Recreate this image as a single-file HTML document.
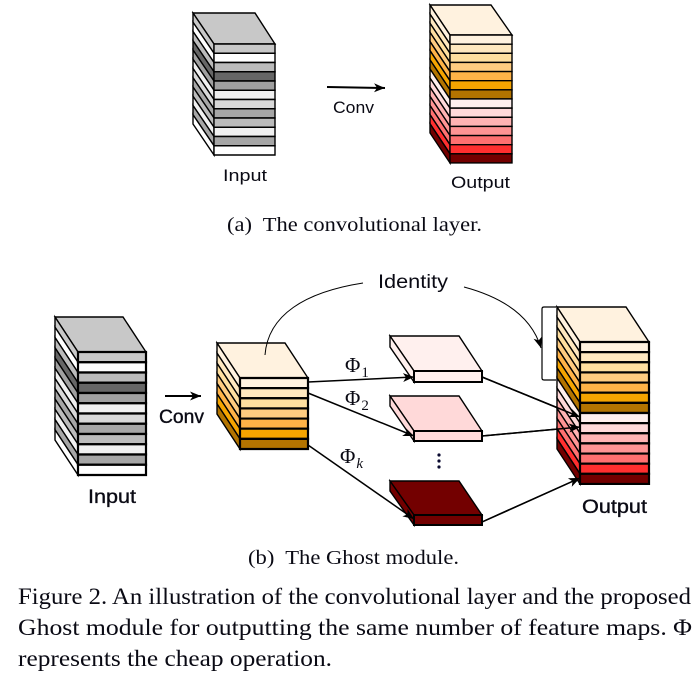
<!DOCTYPE html>
<html><head><meta charset="utf-8"><style>
html,body{margin:0;padding:0;background:#fff;width:697px;height:676px;overflow:hidden}
svg{display:block}
.t{font-family:"Liberation Serif",serif;fill:#0a0a14}
.s{font-family:"Liberation Sans",sans-serif;fill:#0a0a14}
rect{vector-effect:non-scaling-stroke}
g.r{stroke:#000;stroke-width:1.4}
g.k{stroke:#000;stroke-width:2.2}
g.v{stroke:#0a0a14;stroke-width:.35}
</style></head><body>
<svg width="697" height="676" viewBox="0 0 697 676" xmlns="http://www.w3.org/2000/svg">
<defs>
<g id="gray">
<rect y="0" width="1" height="1" fill="#c8c8c8"/><rect y="1" width="1" height="1" fill="#fff"/><rect y="2" width="1" height="1" fill="#bbb"/><rect y="3" width="1" height="1" fill="#666"/><rect y="4" width="1" height="1" fill="#a0a0a0"/><rect y="5" width="1" height="1" fill="#f0f0f0"/><rect y="6" width="1" height="1" fill="#d8d8d8"/><rect y="7" width="1" height="1" fill="#a6a6a6"/><rect y="8" width="1" height="1" fill="#bbb"/><rect y="9" width="1" height="1" fill="#f0f0f0"/><rect y="10" width="1" height="1" fill="#a6a6a6"/><rect y="11" width="1" height="1" fill="#fff"/>
</g>
<g id="org">
<rect y="0" width="1" height="1" fill="#fff2df"/><rect y="1" width="1" height="1" fill="#ffe8bf"/><rect y="2" width="1" height="1" fill="#ffdf9f"/><rect y="3" width="1" height="1" fill="#ffcc80"/><rect y="4" width="1" height="1" fill="#ffb347"/><rect y="5" width="1" height="1" fill="#f5a400"/><rect y="6" width="1" height="1" fill="#b37400"/>
</g>
<g id="all">
<use href="#org"/>
<rect y="7" width="1" height="1" fill="#fff0ee"/><rect y="8" width="1" height="1" fill="#ffd9d9"/><rect y="9" width="1" height="1" fill="#ffb3b3"/><rect y="10" width="1" height="1" fill="#ff9494"/><rect y="11" width="1" height="1" fill="#ff7070"/><rect y="12" width="1" height="1" fill="#ff2f2f"/><rect y="13" width="1" height="1" fill="#730000"/>
</g>
<marker id="a" markerUnits="userSpaceOnUse" markerWidth="12" markerHeight="10" refX="11" refY="5" orient="auto"><path d="M0 0.5L11 5L0 9.5L3 5Z" fill="#000"/></marker>
</defs>

<!-- top input -->
<polygon points="193,13 255,13 275,44 214,44" fill="#c8c8c8" stroke="#000" stroke-width="1.4"/>
<g class="r" transform="matrix(21,31,0,9.25,193,13)"><use href="#gray"/></g>
<g class="r" transform="translate(214,44) scale(61,9.25)"><use href="#gray"/></g>

<!-- top output -->
<polygon points="430,5 491,5 512,35 450,35" fill="#fff2df" stroke="#000" stroke-width="1.4"/>
<g class="r" transform="matrix(20,30,0,9.14,430,5)"><use href="#all"/></g>
<g class="r" transform="translate(450,35) scale(62,9.14)"><use href="#all"/></g>

<!-- bottom input -->
<polygon points="55,317 123,317 146,352 78,352" fill="#c8c8c8" stroke="#000" stroke-width="1.4"/>
<g class="r" transform="matrix(23,35,0,10.25,55,317)"><use href="#gray"/></g>
<g class="k" transform="translate(78,352) scale(68,10.25)"><use href="#gray"/></g>

<!-- intermediate -->
<polygon points="217,343 285,343 308,378 240,378" fill="#fff2df" stroke="#000" stroke-width="1.4"/>
<g class="r" transform="matrix(23,35,0,10.14,217,343)"><use href="#org"/></g>
<g class="k" transform="translate(240,378) scale(68,10.14)"><use href="#org"/></g>

<!-- thin layers -->
<g stroke="#000" stroke-width="1.4">
<polygon points="390,336 459,336 482,371 414,371" fill="#fff0ee"/>
<polygon points="390,336 414,371 414,382 390,347" fill="#fff0ee"/>
<rect x="414" y="371" width="68" height="11" fill="#fff0ee" stroke-width="2"/>
<polygon points="390,396 459,396 482,431 414,431" fill="#ffd9d9"/>
<polygon points="390,396 414,431 414,441 390,406" fill="#ffd9d9"/>
<rect x="414" y="431" width="68" height="10" fill="#ffd9d9" stroke-width="2"/>
<polygon points="390,481 459,481 482,515 414,515" fill="#730000"/>
<polygon points="390,481 414,515 414,525 390,491" fill="#730000"/>
<rect x="414" y="515" width="68" height="10" fill="#730000" stroke-width="2"/>
</g>

<!-- connectors -->
<g fill="none" stroke="#000">
<line x1="327" y1="87" x2="385" y2="88" stroke-width="2" marker-end="url(#a)"/>
<line x1="165" y1="396" x2="201" y2="396" stroke-width="2" marker-end="url(#a)"/>
<line x1="308" y1="382" x2="414" y2="377" stroke-width="1.5" marker-end="url(#a)"/>
<line x1="308" y1="393" x2="414" y2="436" stroke-width="1.5" marker-end="url(#a)"/>
<line x1="308" y1="445" x2="414" y2="519" stroke-width="1.5" marker-end="url(#a)"/>
<line x1="482" y1="377" x2="580" y2="417" stroke-width="1.5" marker-end="url(#a)"/>
<line x1="482" y1="436" x2="580" y2="427" stroke-width="1.5" marker-end="url(#a)"/>
<line x1="482" y1="522" x2="580" y2="478" stroke-width="1.5" marker-end="url(#a)"/>
<path d="M265 355C268 315 305 292 363 283" stroke-width="1"/>
<path d="M464 287C505 298 532 318 541 348" stroke-width="1" marker-end="url(#a)"/>
<path d="M556 307H544Q542 307 542 309V378Q542 380 544 380H556" stroke-width="1.2"/>
</g>

<!-- bottom output -->
<polygon points="557,307 626,307 649,342 580,342" fill="#fff2df" stroke="#000" stroke-width="1.4"/>
<g class="r" transform="matrix(23,35,0,10.14,557,307)"><use href="#all"/></g>
<g class="k" transform="translate(580,342) scale(69,10.14)"><use href="#all"/></g>
<line x1="482" y1="377" x2="580" y2="417" stroke="#000" stroke-width="1.5" marker-end="url(#a)"/>
<line x1="482" y1="436" x2="580" y2="427" stroke="#000" stroke-width="1.5" marker-end="url(#a)"/>
<line x1="482" y1="522" x2="580" y2="478" stroke="#000" stroke-width="1.5" marker-end="url(#a)"/>

<!-- dots -->
<g fill="#0a0a30"><circle cx="439" cy="455" r="1.6"/><circle cx="439" cy="461" r="1.6"/><circle cx="439" cy="467" r="1.6"/></g>

<!-- labels -->
<g class="s">
<text x="223" y="181" font-size="17" textLength="44" lengthAdjust="spacingAndGlyphs">Input</text>
<text x="333" y="113" font-size="17" textLength="41" lengthAdjust="spacingAndGlyphs">Conv</text>
<text x="451" y="188" font-size="17" textLength="59" lengthAdjust="spacingAndGlyphs">Output</text>
<text x="378" y="288" font-size="19" textLength="70" lengthAdjust="spacingAndGlyphs">Identity</text>
<g class="v">
<text x="159" y="423" font-size="19" textLength="45" lengthAdjust="spacingAndGlyphs">Conv</text>
<text x="88" y="503" font-size="19" textLength="48" lengthAdjust="spacingAndGlyphs">Input</text>
<text x="582" y="513" font-size="19" textLength="65" lengthAdjust="spacingAndGlyphs">Output</text>
</g>
</g>
<g class="t">
<text x="345" y="372" font-size="21">Φ<tspan font-size="15" dx="1" dy="5">1</tspan></text>
<text x="345" y="405" font-size="21">Φ<tspan font-size="15" dx="1" dy="5">2</tspan></text>
<text x="340" y="463" font-size="21">Φ<tspan font-size="15" font-style="italic" dx="1" dy="5">k</tspan></text>
<text x="227" y="231" font-size="20" textLength="255" lengthAdjust="spacingAndGlyphs" xml:space="preserve">(a)  The convolutional layer.</text>
<text x="248" y="564" font-size="20" textLength="211" lengthAdjust="spacingAndGlyphs" xml:space="preserve">(b)  The Ghost module.</text>
<text x="18" y="604" font-size="23" textLength="673" lengthAdjust="spacingAndGlyphs">Figure 2. An illustration of the convolutional layer and the proposed</text>
<text x="18" y="635" font-size="23" textLength="674" lengthAdjust="spacingAndGlyphs">Ghost module for outputting the same number of feature maps. Φ</text>
<text x="18" y="666" font-size="23" textLength="314" lengthAdjust="spacingAndGlyphs">represents the cheap operation.</text>
</g>
</svg>
</body></html>
